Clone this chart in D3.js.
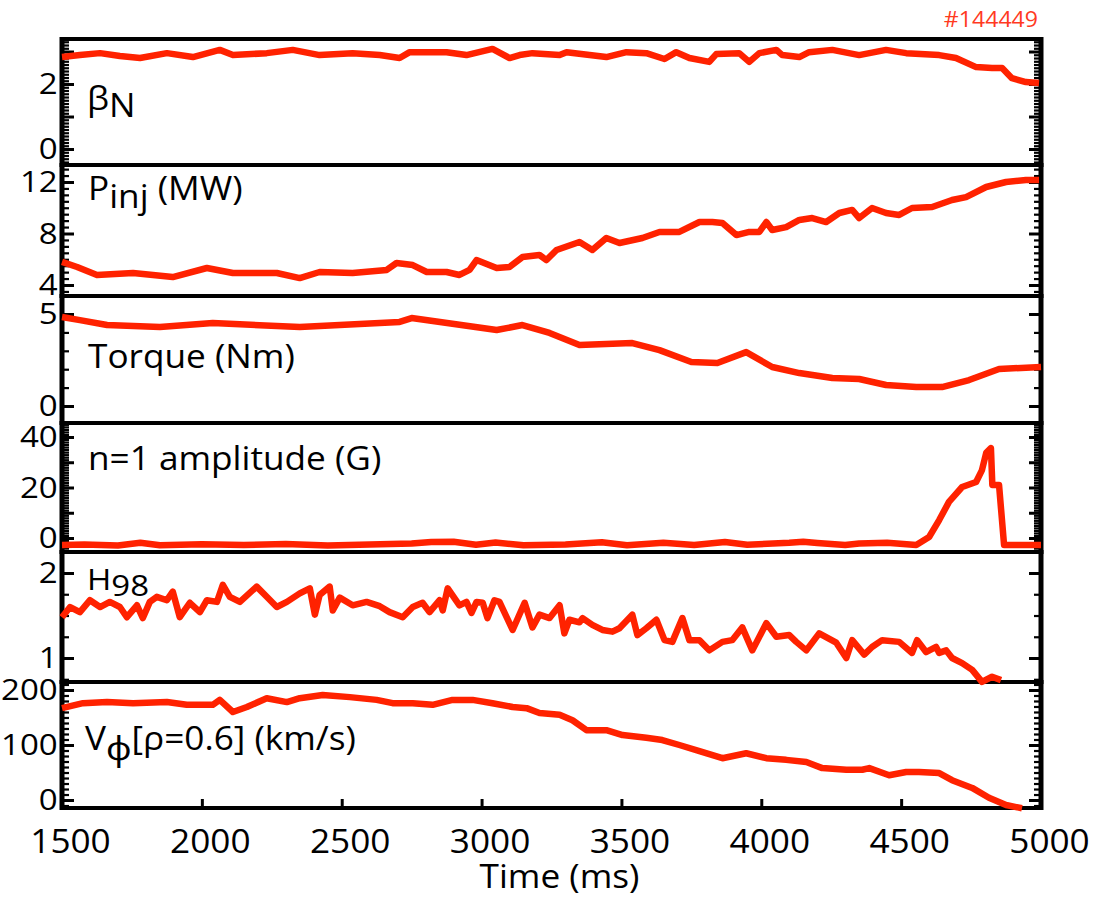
<!DOCTYPE html>
<html><head><meta charset="utf-8">
<script src="https://cdn.jsdelivr.net/npm/d3@7"></script>
<style>body{margin:0;background:#fff}svg{display:block}</style>
</head><body>
<svg id="c" width="1103" height="898"></svg>
<script>
// ---------------- data ----------------
const timeTicks = [1500, 2000, 2500, 3000, 3500, 4000, 4500, 5000];
const shotLabel = "#144449";
const xTitle = "Time (ms)";

const betaN = [[1500,2.83],[1564,2.89],[1636,2.95],[1707,2.86],[1779,2.80],[1875,2.95],[1968,2.83],[2064,3.05],[2111,2.89],[2232,2.95],[2325,3.05],[2421,2.89],[2539,2.95],[2636,2.89],[2707,2.80],[2743,2.98],[2875,2.98],[2946,2.89],[3039,3.08],[3100,2.80],[3136,2.89],[3182,2.95],[3279,2.89],[3304,2.98],[3446,2.83],[3518,2.98],[3589,2.95],[3654,2.77],[3696,2.98],[3743,2.80],[3814,2.68],[3839,2.92],[3921,2.95],[3957,2.68],[3993,2.95],[4054,3.05],[4075,2.89],[4136,2.83],[4171,2.98],[4254,3.05],[4350,2.89],[4446,3.05],[4518,2.95],[4636,2.89],[4696,2.80],[4768,2.52],[4825,2.49],[4861,2.49],[4896,2.18],[4946,2.06],[4993,2.03]];
const betaTicks = [0, 2];

const pinj = [[1500,5.79],[1554,5.40],[1625,4.78],[1754,4.93],[1896,4.62],[2018,5.32],[2111,4.93],[2268,4.93],[2350,4.54],[2421,5.01],[2539,4.93],[2661,5.17],[2696,5.71],[2754,5.55],[2804,5.01],[2875,5.01],[2921,4.78],[2957,5.17],[2982,5.94],[3054,5.32],[3100,5.40],[3146,6.17],[3207,6.33],[3232,5.94],[3268,6.72],[3350,7.34],[3396,6.72],[3446,7.65],[3493,7.26],[3575,7.65],[3636,8.12],[3707,8.12],[3779,8.89],[3825,8.89],[3861,8.82],[3911,7.88],[3957,8.12],[3993,8.12],[4018,8.89],[4039,8.27],[4089,8.50],[4136,9.05],[4182,9.20],[4232,8.89],[4279,9.59],[4325,9.83],[4350,9.20],[4396,9.98],[4446,9.59],[4493,9.44],[4539,9.98],[4611,10.06],[4682,10.60],[4732,10.83],[4804,11.61],[4875,12.00],[4946,12.16],[4993,12.16]];
const pinjTicks = [4, 8, 12];

const torque = [[1500,4.84],[1564,4.67],[1661,4.40],[1850,4.29],[2039,4.51],[2350,4.29],[2707,4.57],[2750,4.78],[3054,4.13],[3146,4.40],[3243,3.97],[3350,3.32],[3539,3.42],[3636,3.04],[3750,2.39],[3843,2.34],[3946,2.93],[4039,2.12],[4136,1.79],[4254,1.52],[4350,1.47],[4446,1.14],[4554,1.03],[4646,1.03],[4743,1.41],[4850,2.01],[5000,2.12]];
const torqueTicks = [0, 5];

const n1amp = [[1500,-2.8],[1580,-2.6],[1700,-3.0],[1780,-1.9],[1850,-2.9],[2000,-2.5],[2150,-2.8],[2300,-2.4],[2450,-3.0],[2600,-2.6],[2750,-2.2],[2820,-1.6],[2900,-1.5],[2980,-2.7],[3050,-1.8],[3150,-2.9],[3300,-2.6],[3430,-1.7],[3520,-2.9],[3650,-1.9],[3760,-2.8],[3870,-1.6],[3950,-2.7],[4100,-1.9],[4150,-1.5],[4200,-2.0],[4300,-2.8],[4350,-2.2],[4450,-1.9],[4554,-2.8],[4600,0.4],[4636,7.1],[4671,14.3],[4718,20.2],[4768,22.2],[4789,26.9],[4804,33.7],[4821,35.6],[4826,21.0],[4850,21.0],[4868,-2.8],[5000,-2.8]];
const n1Ticks = [0, 20, 40];

const h98 = [[1500,1.48],[1529,1.60],[1564,1.54],[1600,1.68],[1636,1.60],[1671,1.66],[1707,1.60],[1732,1.48],[1768,1.62],[1789,1.47],[1814,1.66],[1839,1.72],[1875,1.68],[1896,1.78],[1921,1.48],[1957,1.65],[1993,1.54],[2018,1.68],[2054,1.66],[2075,1.86],[2100,1.72],[2136,1.66],[2196,1.84],[2232,1.72],[2268,1.60],[2304,1.66],[2350,1.76],[2386,1.82],[2404,1.51],[2421,1.74],[2457,1.84],[2468,1.56],[2493,1.71],[2539,1.62],[2589,1.66],[2636,1.61],[2671,1.54],[2718,1.48],[2754,1.60],[2789,1.65],[2814,1.54],[2850,1.68],[2861,1.56],[2879,1.82],[2921,1.62],[2946,1.66],[2964,1.53],[2982,1.66],[3004,1.65],[3021,1.47],[3046,1.68],[3064,1.66],[3111,1.33],[3154,1.65],[3182,1.36],[3207,1.51],[3243,1.47],[3279,1.62],[3296,1.29],[3314,1.45],[3350,1.42],[3361,1.47],[3396,1.39],[3432,1.33],[3468,1.31],[3493,1.35],[3539,1.51],[3557,1.27],[3589,1.35],[3625,1.45],[3654,1.21],[3682,1.19],[3718,1.47],[3743,1.21],[3779,1.21],[3814,1.09],[3861,1.19],[3896,1.21],[3932,1.36],[3968,1.09],[4018,1.41],[4054,1.25],[4100,1.27],[4125,1.19],[4161,1.09],[4207,1.29],[4268,1.18],[4304,1.00],[4325,1.21],[4368,1.04],[4396,1.13],[4432,1.21],[4493,1.19],[4539,1.06],[4557,1.21],[4589,1.07],[4625,1.13],[4636,1.06],[4661,1.09],[4682,1.00],[4718,0.94],[4754,0.86],[4789,0.72],[4825,0.78],[4857,0.74]];
const h98Ticks = [1, 2];

const vphi = [[1500,167],[1575,176],[1661,178],[1754,176],[1875,178],[1946,173],[2039,173],[2064,182],[2111,160],[2161,169],[2232,185],[2304,178],[2350,185],[2432,191],[2529,187],[2625,182],[2682,176],[2754,176],[2825,173],[2896,182],[2968,182],[3039,176],[3111,169],[3161,167],[3207,158],[3279,155],[3325,145],[3375,127],[3446,127],[3504,118],[3589,113],[3646,109],[3707,100],[3779,89],[3861,76],[3946,85],[4018,76],[4089,73],[4161,69],[4218,58],[4304,55],[4361,55],[4386,58],[4457,45],[4518,51],[4564,51],[4636,49],[4682,36],[4754,22],[4814,4],[4875,-9],[4932,-15]];
const vphiTicks = [0, 100, 200];

// ---------------- layout ----------------
const W = 1103, H = 898;
const L = 62, R = 1041;
const RED = "#ff2200";
const FONT = "'Open Sans', 'Noto Sans', sans-serif";
const SX = 1.1; // horizontal stretch of the lettering

const svg = d3.select("#c");
const x = d3.scaleLinear().domain([1500, 5000]).range([L, R]);

const panels = [
  {data: betaN,  top: 39,  bottom: 165, domain: [-0.492, 3.385], labels: betaTicks,   majors: [0,1,2,3],        minor: 0.1},
  {data: pinj,   top: 165, bottom: 296, domain: [3.146, 13.32],  labels: pinjTicks,   majors: [4,8,12],         minor: 0.5},
  {data: torque, top: 296, bottom: 423, domain: [-0.924, 5.98],  labels: torqueTicks, majors: [0,5],            minor: 1},
  {data: n1amp,  top: 423, bottom: 552, domain: [-5.54, 45.54],  labels: n1Ticks,     majors: [0,10,20,30,40],  minor: 1},
  {data: h98,    top: 552, bottom: 682, domain: [0.718, 2.247],  labels: h98Ticks,    majors: [1,2],            minor: 0.25},
  {data: vphi,   top: 682, bottom: 808, domain: [-14.5, 214.5],  labels: vphiTicks,   majors: [0,100,200],      minor: 10}
];

const gAxes = svg.append("g");
const gLines = svg.append("g");
const gText = svg.append("g");

panels.forEach(p => {
  p.y = d3.scaleLinear().domain(p.domain).range([p.bottom, p.top]);
  const minors = d3.range(Math.ceil(p.domain[0] / p.minor) * p.minor, p.domain[1], p.minor)
    .map(v => +v.toFixed(4)).filter(v => !p.majors.includes(v));

  const minL = gAxes.append("g").attr("transform", `translate(${L},0)`)
    .call(d3.axisRight(p.y).tickValues(minors).tickSize(7).tickFormat(""));
  const minR = gAxes.append("g").attr("transform", `translate(${R},0)`)
    .call(d3.axisLeft(p.y).tickValues(minors).tickSize(7).tickFormat(""));
  const majL = gAxes.append("g").attr("transform", `translate(${L},0)`)
    .call(d3.axisRight(p.y).tickValues(p.majors).tickSize(12).tickFormat(""));
  const majR = gAxes.append("g").attr("transform", `translate(${R},0)`)
    .call(d3.axisLeft(p.y).tickValues(p.majors).tickSize(12).tickFormat(""));
  [minL, minR].forEach(g => { g.select(".domain").remove(); g.selectAll("line").attr("stroke", "#000").attr("stroke-width", 2.2); });
  [majL, majR].forEach(g => { g.select(".domain").remove(); g.selectAll("line").attr("stroke", "#000").attr("stroke-width", 3); });

  const lab = gAxes.append("g").attr("transform", `translate(${L},0)`)
    .call(d3.axisLeft(p.y).tickValues(p.labels).tickSize(0).tickPadding(4).tickFormat(d3.format("d")));
  lab.select(".domain").remove();
  lab.selectAll("text").attr("font-family", FONT).attr("font-size", 30).attr("fill", "#000")
    .attr("transform", `scale(${SX},1)`);

  gAxes.append("line").attr("x1", L).attr("x2", R).attr("y1", p.top).attr("y2", p.top)
    .attr("stroke", "#000").attr("stroke-width", 4);
  gAxes.append("line").attr("x1", L).attr("x2", R).attr("y1", p.bottom).attr("y2", p.bottom)
    .attr("stroke", "#000").attr("stroke-width", 4);
  gAxes.append("line").attr("x1", L).attr("x2", L).attr("y1", p.top - 2).attr("y2", p.bottom + 2)
    .attr("stroke", "#000").attr("stroke-width", 5);
  gAxes.append("line").attr("x1", R).attr("x2", R).attr("y1", p.top - 2).attr("y2", p.bottom + 2)
    .attr("stroke", "#000").attr("stroke-width", 5);

  const line = d3.line().x(d => x(d[0])).y(d => p.y(d[1]));
  gLines.append("path").datum(p.data).attr("d", line)
    .attr("fill", "none").attr("stroke", RED).attr("stroke-width", 6.5)
    .attr("stroke-linejoin", "round").attr("stroke-linecap", "butt");
});

const last = panels[panels.length - 1];
const xt = gAxes.append("g").attr("transform", `translate(0,${last.bottom})`)
  .call(d3.axisTop(x).tickValues(timeTicks).tickSize(9).tickFormat(""));
xt.select(".domain").remove();
xt.selectAll("line").attr("stroke", "#000").attr("stroke-width", 3);

const xl = gAxes.append("g").attr("transform", `translate(0,${last.bottom})`)
  .call(d3.axisBottom(x).tickValues(timeTicks).tickSize(0).tickFormat(d3.format("d")));
xl.select(".domain").remove();
xl.selectAll("text").attr("font-family", FONT).attr("font-size", 32).attr("fill", "#000")
  .attr("y", 45).attr("dy", null).attr("transform", `translate(8,0) scale(${SX},1)`);

function label(px, py, parts, size, anchor, color) {
  const g = gText.append("g").attr("transform", `translate(${px},${py})`);
  const t = g.append("text").attr("font-family", FONT).attr("font-size", size)
    .attr("fill", color || "#000").attr("text-anchor", anchor || "start")
    .attr("transform", `scale(${SX},1)`);
  parts.forEach(pt => {
    const ts = t.append("tspan").text(pt.t);
    if (pt.dy) ts.attr("dy", pt.dy);
  });
  return t;
}

label((L + R) / 2 + 8, 888, [{t: xTitle}], 32, "middle");
label(1038, 27, [{t: shotLabel}], 21, "end", "#ff3a1f");

label(87, 110, [{t: "β"}, {t: "N", dy: 7}], 32);
label(88, 200, [{t: "P"}, {t: "inj", dy: 8}, {t: " (MW)", dy: -8}], 32);
label(88, 368, [{t: "Torque (Nm)"}], 32);
label(88, 470, [{t: "n=1 amplitude (G)"}], 32);
label(87, 590, [{t: "H"}, {t: "98", dy: 6}], 30);
label(85, 750, [{t: "V"}, {t: "ϕ", dy: 10}, {t: "[ρ=0.6] (km/s)", dy: -10}], 32);
</script>
</body></html>
